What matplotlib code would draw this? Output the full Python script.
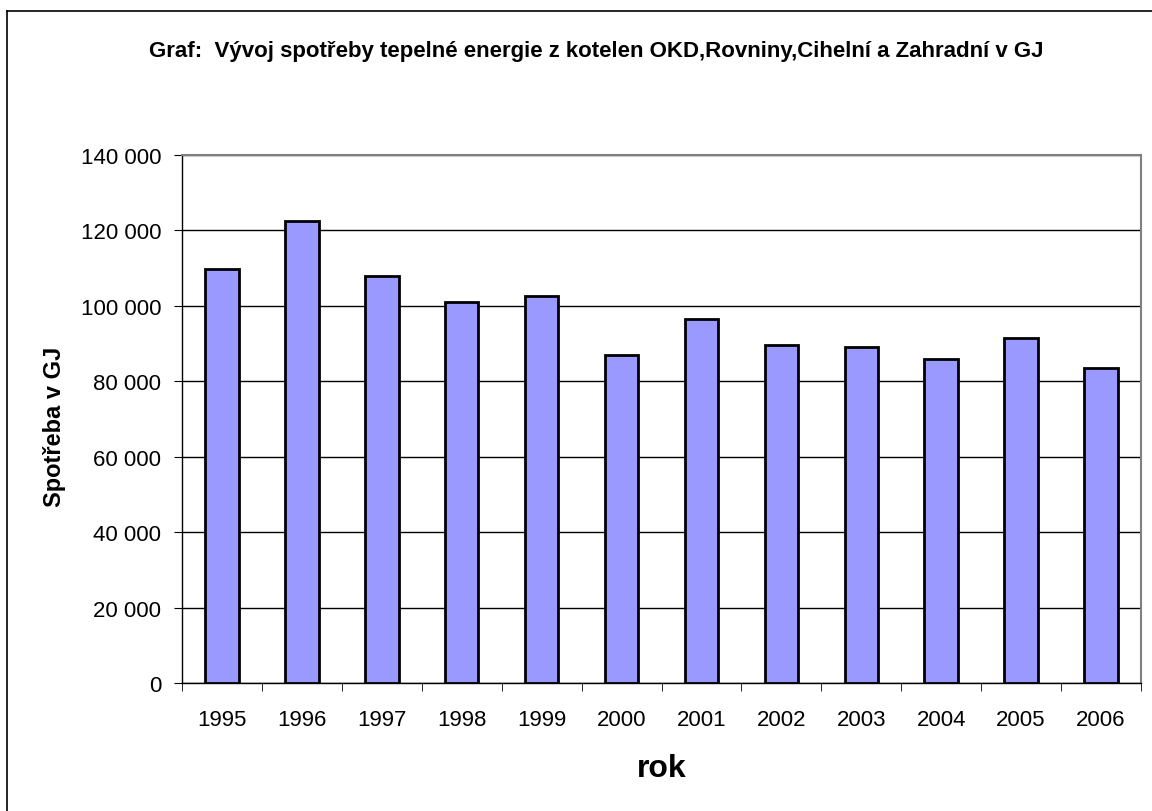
import matplotlib
matplotlib.use("Agg")
import matplotlib.pyplot as plt
from matplotlib.ticker import FuncFormatter, MultipleLocator, FixedLocator
from matplotlib.lines import Line2D
import numpy as np

plt.rcParams['font.family'] = ['Liberation Sans', 'DejaVu Sans']

years = ['1995', '1996', '1997', '1998', '1999', '2000', '2001', '2002', '2003', '2004', '2005', '2006']
consumption = [109800, 122400, 108000, 101000, 102500, 87000, 96600, 89600, 89200, 86000, 91600, 83400]

title = 'Graf:  Vývoj spotřeby tepelné energie z kotelen OKD,Rovniny,Cihelní a Zahradní v GJ'

W, H = 1152, 812
fig = plt.figure(figsize=(W / 100, H / 100), dpi=100)
# outer chart frame (only left and top edges are visible in the reference)
fig.add_artist(Line2D([7 / W, 7 / W], [0, 1 - 12 / H], transform=fig.transFigure, color='black', linewidth=1.2))
fig.add_artist(Line2D([7 / W, 1], [1 - 12 / H, 1 - 12 / H], transform=fig.transFigure, color='black', linewidth=1.2))

ax = fig.add_axes([182 / W, 1 - 684 / H, (1141 - 182) / W, (684 - 156) / H])

x = np.arange(len(years))
ax.bar(x, consumption, width=0.42, color='#9999FF', edgecolor='black', linewidth=2, zorder=3)

ax.set_xlim(-0.5, len(years) - 0.5)
ax.set_ylim(0, 140000)
ax.yaxis.set_major_locator(MultipleLocator(20000))
ax.yaxis.set_major_formatter(FuncFormatter(lambda v, p: f"{int(v):,}".replace(',', ' ')))
ax.grid(axis='y', color='black', linewidth=1, zorder=0)
ax.set_xticks(x)
ax.set_xticklabels(years)
ax.xaxis.set_minor_locator(FixedLocator(np.arange(-0.5, len(years), 1)))
ax.tick_params(axis='x', which='major', length=0, pad=19, labelsize=16)
ax.tick_params(axis='x', which='minor', length=6, direction='out', color='black')
ax.tick_params(axis='y', length=6, direction='out', labelsize=16, pad=9)

for side in ['top', 'right']:
    ax.spines[side].set_color('#808080')
    ax.spines[side].set_linewidth(1.5)
for side in ['left', 'bottom']:
    ax.spines[side].set_color('black')
    ax.spines[side].set_linewidth(1)

fig.text(54 / W, 1 - 427 / H, 'Spotřeba v GJ', rotation=90, ha='center', va='center',
         fontsize=17, fontweight='bold')
fig.text(662 / W, 1 - 777 / H, 'rok', ha='center', va='baseline', fontsize=23, fontweight='bold')
fig.text(596 / W, 1 - 57 / H, title, ha='center', va='baseline', fontsize=16, fontweight='bold')

fig.savefig('out.png', dpi=100)
